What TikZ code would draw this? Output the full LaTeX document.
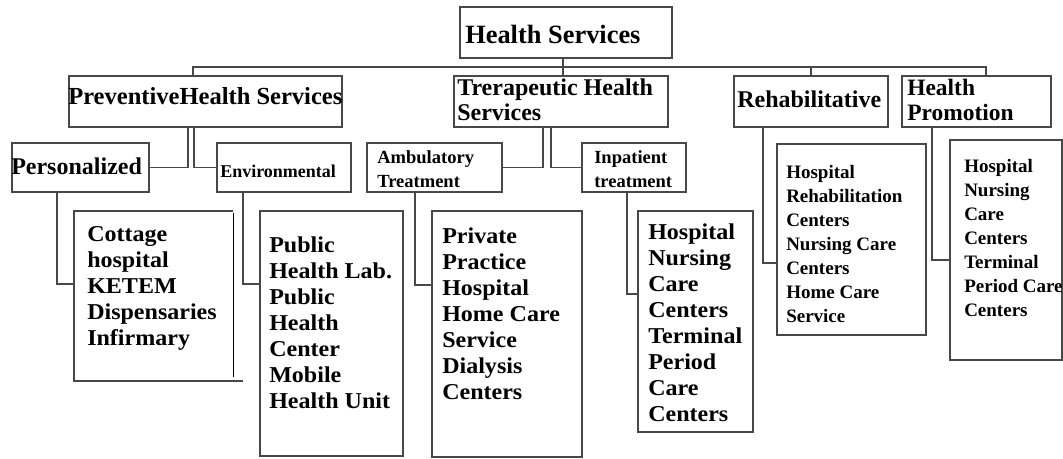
\documentclass[tikz,border=0pt]{standalone}
\usepackage{fontspec}
\setmainfont{Liberation Serif}
\newfontfamily\wideserif{Liberation Serif}[FakeStretch=1.06]
\usetikzlibrary{fit}

% multi-line text whose anchor is the baseline of its first line
\newcommand\boxlines[3]{\parbox[t]{9cm}{\fontsize{#1}{#2}\selectfont #3}}

\definecolor{edge}{RGB}{72,72,72}

\tikzset{
  box/.style={draw=edge, line width=1.2pt, inner sep=0pt},
  conn/.style={draw=edge, line width=1.2pt},
  lbl/.style={anchor=base west, inner sep=0pt, text=black, font=\bfseries},
}

\begin{document}
\begin{tikzpicture}[x=0.75pt, y=-0.75pt]
\useasboundingbox[fill=white] (0,0) rectangle (1063,458);

% ---- boxes ----
\node[box, fit={(460,7) (672,58)}]    (hs)   {};
\node[box, fit={(69,76) (342,127)}]   (prev) {};
\node[box, fit={(454,76) (668,127)}]  (tre)  {};
\node[box, fit={(734,76) (888,127)}]  (reh)  {};
\node[box, fit={(902,76) (1051,127)}] (prom) {};

\node[box, fit={(12,143) (149,192)}]  (pers) {};
\node[box, fit={(217,143) (351,192)}] (env)  {};
\node[box, fit={(367,143) (502,192)}] (amb)  {};
\node[box, fit={(582,143) (686,192)}] (inp)  {};

\node[inner sep=0pt, fit={(74,211) (233,381)}] (cot) {};
\node[box, fit={(260,211) (403,456)}]  (pub)   {};
\node[box, fit={(432,211) (582,457)}]  (priv)  {};
\node[box, fit={(638,211) (753,432)}]  (hosp)  {};
\node[box, fit={(777,144) (926,335)}]  (rehc)  {};
\node[box, fit={(950,140) (1062,360)}] (promc) {};

% open-cornered outline of the first leaf box
\draw[conn] (cot.north east) -- (cot.north west) -- (cot.south west) -- ([xshift=7.5pt]cot.south east);
\draw[black, line width=0.8pt] ([yshift=-1.5pt]cot.north east) -- ([yshift=3pt]cot.south east);

% ---- labels ----
\node[lbl] (hs-t)   at (465,43)  {\fontsize{19.8pt}{22pt}\selectfont Health Services};
\node[lbl] (prev-t) at (68,104)  {\fontsize{18.4pt}{22pt}\selectfont PreventiveHealth Services};
\node[lbl] (tre-t)  at (457,95)  {\boxlines{18pt}{18.75pt}{\bfseries Trerapeutic Health\\Services}};
\node[lbl] (reh-t)  at (737,107) {\fontsize{18pt}{22pt}\selectfont Rehabilitative};
\node[lbl] (prom-t) at (907,95)  {\boxlines{17.6pt}{18.75pt}{\bfseries Health\\Promotion}};

\node[lbl] (pers-t) at (11,174)  {\fontsize{18pt}{22pt}\selectfont Personalized};
\node[lbl] (env-t)  at (220,177) {\fontsize{13.5pt}{16pt}\selectfont Environmental};
\node[lbl] (amb-t)  at (377,163) {\boxlines{13.9pt}{18pt}{\bfseries Ambulatory\\Treatment}};
\node[lbl] (inp-t)  at (594,163) {\boxlines{13.9pt}{18pt}{\bfseries Inpatient\\treatment}};

\node[lbl] (cot-t)  at (87,241)  {\boxlines{17pt}{19.5pt}{\wideserif\bfseries Cottage\\hospital\\KETEM\\Dispensaries\\Infirmary}};
\node[lbl] (pub-t)  at (269,252) {\boxlines{17pt}{19.5pt}{\wideserif\bfseries Public\\Health Lab.\\Public\\Health\\Center\\Mobile\\Health Unit}};
\node[lbl] (priv-t) at (442,243) {\boxlines{17pt}{19.5pt}{\wideserif\bfseries Private\\Practice\\Hospital\\Home Care\\Service\\Dialysis\\Centers}};
\node[lbl] (hosp-t) at (648,239) {\boxlines{17pt}{19.5pt}{\wideserif\bfseries Hospital\\Nursing\\Care\\Centers\\Terminal\\Period\\Care\\Centers}};
\node[lbl] (rehc-t) at (786,178) {\boxlines{14.25pt}{18pt}{\bfseries Hospital\\Rehabilitation\\Centers\\Nursing Care\\Centers\\Home Care\\Service}};
\node[lbl] (promc-t) at (964,172) {\boxlines{14.25pt}{18pt}{\bfseries Hospital\\Nursing\\Care\\Centers\\Terminal\\Period Care\\Centers}};

% ---- connector positions ----
\coordinate (busL) at (193,67);
\coordinate (busR) at (986,67);
\coordinate (xhs)  at (563,67);
\coordinate (xreh) at (811,67);
\coordinate (kp1) at (188,168);
\coordinate (kp2) at (194,168);
\coordinate (kt1) at (543,168);
\coordinate (kt2) at (551,168);
\coordinate (k1) at (57,284);
\coordinate (k2) at (243,284);
\coordinate (k3) at (415,285);
\coordinate (k4) at (627,294);
\coordinate (k5) at (763,263);
\coordinate (k6) at (932,260);

% ---- top level ----
\draw[conn] (hs.south -| xhs) -- (tre.north -| xhs);
\draw[conn] (prev.north -| busL) -- (busL) -- (busR) -- (prom.north -| busR);
\draw[conn] (xreh) -- (reh.north -| xreh);

% ---- second level ----
\draw[conn] (prev.south -| kp1) |- (pers.east);
\draw[conn] (prev.south -| kp2) |- (env.west);
\draw[conn] (tre.south -| kt1) |- (amb.east);
\draw[conn] (tre.south -| kt2) |- (inp.west);

% ---- leaves ----
\draw[conn] (pers.south -| k1) |- (cot.west |- k1);
\draw[conn] (env.south -| k2)  |- (pub.west |- k2);
\draw[conn] (amb.south -| k3)  |- (priv.west |- k3);
\draw[conn] (inp.south -| k4)  |- (hosp.west |- k4);
\draw[conn] (reh.south -| k5)  |- (rehc.west |- k5);
\draw[conn] (prom.south -| k6) |- (promc.west |- k6);
\end{tikzpicture}
\end{document}
